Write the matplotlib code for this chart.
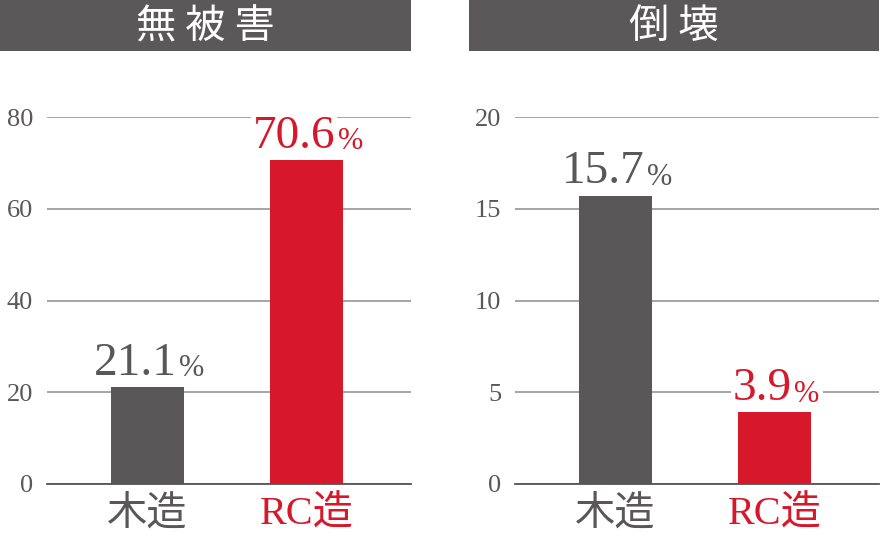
import matplotlib.pyplot as plt
from matplotlib.patches import Rectangle

plt.rcParams['font.family'] = ['Liberation Serif', 'Noto Sans CJK JP', 'DejaVu Sans']

categories = ['木造', 'RC造']
titles = ['無被害', '倒壊']
values_nodamage = [21.1, 70.6]
values_collapse = [15.7, 3.9]
yticks_nodamage = [0, 20, 40, 60, 80]
yticks_collapse = [0, 5, 10, 15, 20]

gray = '#595757'
red = '#d7182a'
colors = [gray, red]

W, H = 881, 545
fig = plt.figure(figsize=(W / 100, H / 100), dpi=100)

panels = [
    (47, 0, 411, titles[0], values_nodamage, yticks_nodamage),
    (515, 469, 879, titles[1], values_collapse, yticks_collapse),
]

for ax_left, ban_left, ban_right, title, values, yticks in panels:
    # title banner
    fig.patches.append(Rectangle((ban_left / W, 1 - 51 / H), (ban_right - ban_left) / W, 51 / H,
                                 transform=fig.transFigure, facecolor='#5a5858',
                                 edgecolor='none', zorder=0))
    fig.text((ban_left + ban_right) / 2 / W, 1 - 27 / H, ' '.join(title),
             family=['Noto Sans CJK JP'], fontsize=29, color='white',
             ha='center', va='center')

    ax = fig.add_axes([ax_left / W, (H - 484) / H, 364 / W, 367 / H])
    x = list(range(len(categories)))
    ax.bar(x, values, width=0.46, color=colors, zorder=2)
    ax.set_xlim(-0.632, 1.657)
    ax.set_ylim(yticks[0], yticks[-1])
    ax.set_yticks(yticks)
    ax.set_yticklabels([str(t) for t in yticks], fontsize=19, color=gray)
    ax.yaxis.grid(True, color='#8c8c8c', linewidth=1.1, zorder=0)
    ax.set_axisbelow(True)
    ax.tick_params(axis='both', length=0)
    ax.tick_params(axis='y', pad=10)
    for s in ['top', 'right', 'left']:
        ax.spines[s].set_visible(False)
    ax.spines['bottom'].set_color('#555555')
    ax.spines['bottom'].set_linewidth(1.3)
    ax.spines['bottom'].set_zorder(3)

    ax.set_xticks(x)
    ax.set_xticklabels(categories, fontsize=29, family=['Liberation Serif', 'Noto Sans CJK JP'])
    ax.tick_params(axis='x', pad=9)
    for lbl, c in zip(ax.get_xticklabels(), colors):
        lbl.set_color(c)

    for xi, v, c in zip(x, values, colors):
        num = ax.annotate(f'{v}', xy=(xi, v), xytext=(-9, 9), textcoords='offset points',
                          ha='center', va='baseline', fontsize=34, color=c, zorder=4,
                          bbox=dict(facecolor='white', edgecolor='none', pad=1))
        ax.annotate('%', xy=(1, 0), xycoords=num, xytext=(2, 1), textcoords='offset points',
                    ha='left', va='bottom', fontsize=22, color=c, zorder=4,
                    bbox=dict(facecolor='white', edgecolor='none', pad=2.5))

fig.savefig('out.png', dpi=100, facecolor='white')
